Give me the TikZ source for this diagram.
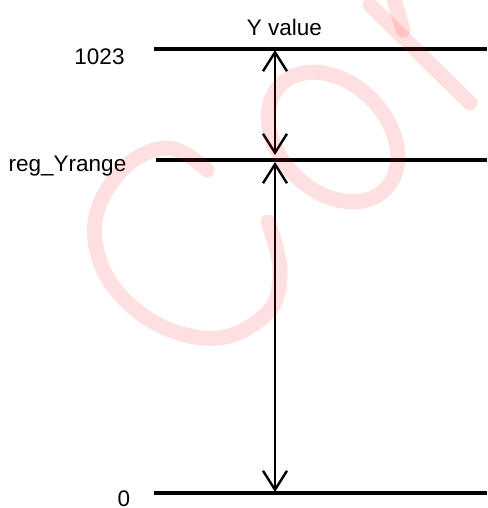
\documentclass[tikz,border=0pt]{standalone}
\usepackage{fontspec}
\setmainfont{Liberation Sans}
\usetikzlibrary{arrows.meta}
\begin{document}
\begin{tikzpicture}[x=1pt,y=-1pt,
  level/.style={line width=3.2pt},
  tipv/.tip={Straight Barb[length=19pt,width=24pt,line width=2.4pt]},
  dim/.style={line width=2.4pt,tipv-tipv},
  lbl/.style={font=\fontsize{22.5}{26}\selectfont,inner sep=0pt,anchor=base},
  wm/.style={draw=red,draw opacity=0.12,line width=15pt,line cap=round,line join=round}]
\useasboundingbox (0,0) rectangle (487,508);
\clip (0,0) rectangle (487,508);
% level lines
\coordinate (topL) at (154,49);  \coordinate (topR) at (487,49);
\coordinate (midL) at (156,160); \coordinate (midR) at (487,160);
\coordinate (botL) at (154,493); \coordinate (botR) at (487,493);
\draw[level] (topL) -- (topR);
\draw[level] (midL) -- (midR);
\draw[level] (botL) -- (botR);
% dimension arrows
\coordinate (a1) at (275,50);
\coordinate (a2) at (275,155);
\coordinate (a3) at (275,162);
\coordinate (a4) at (275,492);
\draw[dim] (a1) -- (a2);
\draw[dim] (a3) -- (a4);
% labels
\node[lbl] (yv) at (284.5,36) {Y value};
\node[lbl] (l1023) at (99.5,65) {1023};
\node[lbl] (lreg) at (67.5,171) {reg\_Yrange};
\node[lbl] (l0) at (124,506) {0};
% watermark
\draw[wm] plot[smooth,tension=0.7] coordinates {(207,170) (165,148) (115,178) (95,240) (130,305) (203,338) (262,318) (280,275) (268,222)};
\draw[wm,shift={(333,137)},rotate=-45] (0,0) ellipse [x radius=74pt,y radius=54pt];
\draw[wm] (370,5) -- (470,103);
\draw[wm] (403,30) -- (393,-5);
\end{tikzpicture}
\end{document}
